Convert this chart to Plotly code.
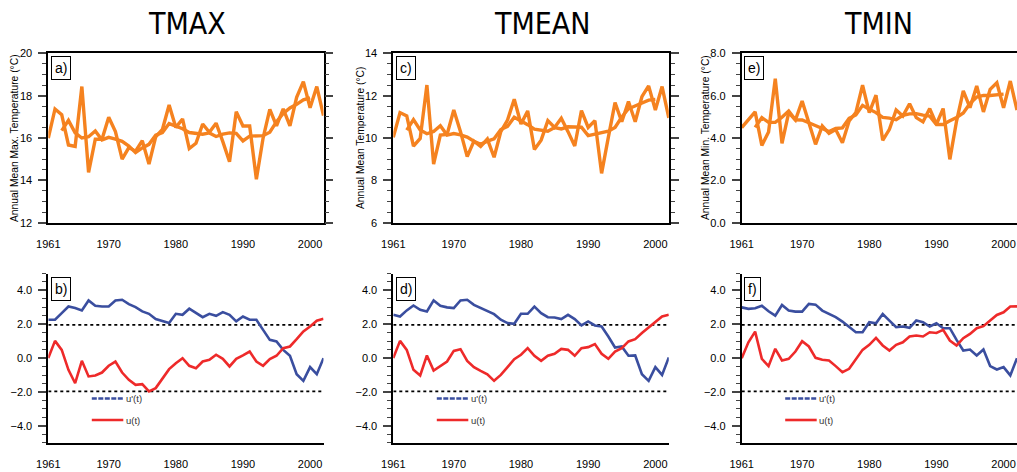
import plotly.graph_objects as go

# ---------------- data ----------------
years = list(range(1961, 2003))
smooth_years = list(range(1963, 2001))

tmax = [16.0, 17.37, 17.1, 15.67, 15.6, 18.43, 14.38, 15.94, 15.94, 16.98,
        16.3, 15.0, 15.55, 15.38, 15.87, 14.77, 16.06, 16.4, 17.56, 16.5,
        16.9, 15.5, 15.75, 16.66, 16.27, 16.7, 15.83, 14.88, 17.24, 16.57,
        16.57, 14.05, 16.0, 17.35, 16.57, 17.37, 16.57, 17.92, 18.66, 17.43,
        18.43, 17.06]
tmax_smooth = [16.35, 16.83, 16.24, 16.0, 16.06, 16.33, 15.91, 16.03, 15.95, 15.84,
               15.62, 15.31, 15.53, 15.7, 16.13, 16.26, 16.68, 16.57, 16.44, 16.26,
               16.22, 16.18, 16.24, 16.07, 16.18, 16.24, 16.22, 15.86, 16.09, 16.11,
               16.11, 16.27, 16.77, 17.16, 17.42, 17.59, 17.8, 17.9]

tmean = [10.03, 11.2, 11.04, 9.62, 9.98, 12.5, 8.77, 10.14, 10.17, 11.32,
         10.3, 9.12, 9.85, 9.6, 9.95, 9.09, 10.3, 10.85, 11.83, 10.66,
         11.28, 9.46, 9.9, 10.82, 10.5, 10.93, 10.3, 9.62, 11.29, 10.5,
         10.82, 8.33, 10.03, 11.67, 10.77, 11.72, 10.77, 11.95, 12.46, 11.32,
         12.43, 10.95]
tmean_smooth = [10.37, 10.87, 10.38, 10.2, 10.31, 10.58, 10.14, 10.21, 10.15, 10.04,
                9.85, 9.7, 9.85, 9.96, 10.4, 10.55, 10.98, 10.82, 10.63, 10.42,
                10.39, 10.32, 10.49, 10.43, 10.53, 10.53, 10.51, 10.11, 10.19, 10.27,
                10.32, 10.5, 10.99, 11.38, 11.53, 11.64, 11.79, 11.82]

tmin = [4.49, 4.86, 5.23, 3.65, 4.28, 6.8, 3.75, 5.2, 4.85, 5.75,
        4.75, 3.7, 4.57, 4.22, 4.4, 3.78, 4.8, 5.2, 6.49, 5.2,
        6.02, 3.89, 4.41, 5.32, 5.04, 5.62, 4.96, 4.76, 5.39, 4.65,
        5.39, 2.99, 4.8, 6.22, 5.43, 6.46, 5.23, 6.3, 6.61, 5.43,
        6.69, 5.32]
tmin_smooth = [4.5, 4.96, 4.74, 4.74, 4.98, 5.27, 4.86, 4.85, 4.72, 4.6,
               4.45, 4.3, 4.45, 4.48, 4.93, 5.09, 5.54, 5.36, 5.2, 4.97,
               4.94, 4.86, 5.07, 5.14, 5.15, 5.08, 5.03, 4.64, 4.64, 4.81,
               4.97, 5.18, 5.63, 5.93, 6.01, 6.01, 6.05, 6.07]

# Mann-Kendall sequential statistics: u(t) forward, u'(t) backward
ut_max = [0.0, 1.02, 0.49, -0.69, -1.48, -0.16, -1.08, -1.02, -0.85, -0.45,
          -0.2, -0.85, -1.28, -1.58, -1.54, -1.97, -1.77, -1.24, -0.65, -0.3,
          0.0, -0.45, -0.59, -0.2, -0.1, 0.2, -0.04, -0.49, -0.04, 0.16,
          0.39, -0.2, -0.45, -0.06, 0.14, 0.59, 0.69, 1.12, 1.58, 1.87,
          2.21, 2.33]
ubt_max = [2.27, 2.27, 2.66, 3.05, 2.96, 2.82, 3.41, 3.09, 3.05, 3.05,
           3.41, 3.45, 3.19, 3.01, 2.76, 2.62, 2.31, 2.17, 2.07, 2.62,
           2.56, 2.92, 2.66, 2.42, 2.62, 2.5, 2.72, 2.56, 2.17, 2.46,
           2.27, 2.27, 1.67, 1.08, 0.99, 0.49, 0.14, -0.95, -1.34, -0.53,
           -0.95, 0.0]

ut_mean = [0.0, 1.02, 0.49, -0.69, -1.02, 0.16, -0.73, -0.49, -0.2, 0.43,
           0.53, -0.16, -0.53, -0.75, -0.95, -1.34, -0.99, -0.53, -0.06, 0.2,
           0.59, 0.14, -0.16, 0.14, 0.26, 0.55, 0.49, 0.14, 0.59, 0.65,
           0.83, 0.26, -0.04, 0.39, 0.59, 0.99, 1.12, 1.48, 1.81, 2.11,
           2.46, 2.56]
ubt_mean = [2.56, 2.46, 2.82, 3.11, 2.86, 2.76, 3.41, 3.09, 3.0, 2.96,
            3.41, 3.45, 3.15, 2.96, 2.8, 2.6, 2.27, 2.07, 2.03, 2.62,
            2.62, 3.05, 2.66, 2.42, 2.4, 2.31, 2.56, 2.31, 1.93, 2.17,
            1.93, 1.87, 1.28, 0.63, 0.69, 0.14, 0.16, -0.95, -1.34, -0.53,
            -0.99, 0.04]

ut_min = [0.0, 0.94, 1.57, -0.04, -0.47, 0.55, -0.14, -0.04, 0.39, 1.0,
          0.69, 0.02, -0.1, -0.14, -0.47, -0.83, -0.63, -0.04, 0.49, 0.79,
          1.2, 0.75, 0.45, 0.79, 0.94, 1.28, 1.34, 1.28, 1.53, 1.49,
          1.67, 1.04, 0.75, 1.18, 1.43, 1.77, 1.89, 2.22, 2.55, 2.71,
          3.05, 3.06]
ubt_min = [3.0, 2.91, 2.95, 3.1, 2.77, 2.51, 3.14, 2.81, 2.75, 2.75,
           3.2, 3.16, 2.81, 2.61, 2.42, 2.16, 1.83, 1.53, 1.53, 2.12,
           2.06, 2.61, 2.22, 1.83, 1.87, 1.79, 2.22, 2.12, 1.87, 2.06,
           1.77, 1.77, 1.08, 0.45, 0.51, 0.16, 0.51, -0.47, -0.67, -0.53,
           -1.02, 0.0]

sig_levels = [1.96, -1.96]

titles = ["TMAX", "TMEAN", "TMIN"]
ytitles = ["Annual Mean Max. Temperature (°C)", "Annual Mean Temperature (°C)",
           "Annual Mean Min. Temperature (°C)"]
top_labels = ["a)", "c)", "e)"]
bot_labels = ["b)", "d)", "f)"]
xtick_vals = [1961, 1970, 1980, 1990, 2000]

# ---------------- layout helpers ----------------
W, H = 1017, 472
def px(x):
    return x / W
def py(y):
    return 1 - y / H

ORANGE = "#F5821F"
BLUE = "#3A4E9F"
RED = "#EE2A2A"
FONT = "Liberation Sans, Arial, Helvetica, sans-serif"
TITLE_FONT = "DejaVu Sans Condensed, Liberation Sans, Arial, sans-serif"
TICK_SIZE = 11

x_left = [48.3, 393.3, 741.7]
x_right = [323.5, 668.8, 1017.0]
top_y = (53.3, 222.7)
bot_y = (273.5, 442.8)

top_series = [(tmax, tmax_smooth), (tmean, tmean_smooth), (tmin, tmin_smooth)]
top_ranges = [[12, 20], [6, 14], [0, 8]]
top_fmt = ["d", "d", ".1f"]
bot_series = [(ut_max, ubt_max), (ut_mean, ubt_mean), (ut_min, ubt_min)]

fig = go.Figure()
layout = dict(width=W, height=H, margin=dict(l=0, r=0, t=0, b=0, pad=0),
              paper_bgcolor="white", plot_bgcolor="white", showlegend=False,
              font=dict(family=FONT, color="black"))
annotations = []
shapes = []

for i in range(3):
    # top panel
    n = i + 1
    xa = "x" if n == 1 else f"x{n}"
    ya = "y" if n == 1 else f"y{n}"
    annual, smooth = top_series[i]
    fig.add_trace(go.Scatter(x=years, y=annual, mode="lines",
                             line=dict(color=ORANGE, width=3.4), xaxis=xa, yaxis=ya))
    fig.add_trace(go.Scatter(x=smooth_years, y=smooth, mode="lines",
                             line=dict(color=ORANGE, width=3.4), xaxis=xa, yaxis=ya))
    layout[f"xaxis{'' if n == 1 else n}"] = dict(
        domain=[px(x_left[i]), px(x_right[i])], range=[1961, 2002], anchor=ya,
        automargin=False,
        tickvals=xtick_vals, ticks="", showline=True, linecolor="black", linewidth=1.8,
        mirror=True, showgrid=False, zeroline=False, ticklabelstandoff=10,
        tickfont=dict(size=TICK_SIZE, family=FONT))
    layout[f"yaxis{'' if n == 1 else n}"] = dict(
        domain=[py(top_y[1]), py(top_y[0])], range=top_ranges[i], anchor=xa,
        automargin=False,
        dtick=2, tickformat=top_fmt[i], ticks="outside", ticklen=8, tickwidth=1.5,
        showline=True, linecolor="black", linewidth=1.8,
        mirror=("ticks" if i < 2 else False), showgrid=False, zeroline=False,
        ticklabelstandoff=4,
        minor=dict(dtick=0.5, ticks="outside", ticklen=4, tickwidth=1.2, showgrid=False),
        tickfont=dict(size=TICK_SIZE, family=FONT))
    annotations.append(dict(text=titles[i], x=px([187, 542, 878][i]), y=py(24),
                            xref="paper", yref="paper", xanchor="center", yanchor="middle",
                            showarrow=False,
                            font=dict(size=30, family=TITLE_FONT, color="black")))
    annotations.append(dict(text=ytitles[i], x=px([14, 360, 705][i]), y=py(138),
                            xref="paper", yref="paper", xanchor="center", yanchor="middle",
                            showarrow=False, textangle=-90,
                            font=dict(size=10.3, family=FONT, color="black")))
    annotations.append(dict(text=top_labels[i], x=px(x_left[i] + 2.5), y=py(56.5),
                            xref="paper", yref="paper", xanchor="left", yanchor="top",
                            showarrow=False, bordercolor="black", borderwidth=1, borderpad=3,
                            bgcolor="white", font=dict(size=14, family=FONT, color="black")))

    # bottom panel
    m = i + 4
    xb = f"x{m}"
    yb = f"y{m}"
    ut, ubt = bot_series[i]
    for lev in sig_levels:
        fig.add_trace(go.Scatter(x=[years[0], years[-1]], y=[lev, lev], mode="lines",
                                 line=dict(color="black", width=1.8, dash="dot"),
                                 xaxis=xb, yaxis=yb))
    fig.add_trace(go.Scatter(x=years, y=ubt, mode="lines",
                             line=dict(color=BLUE, width=2.6), xaxis=xb, yaxis=yb))
    fig.add_trace(go.Scatter(x=years, y=ut, mode="lines",
                             line=dict(color=RED, width=2.6), xaxis=xb, yaxis=yb))
    layout[f"xaxis{m}"] = dict(
        domain=[px(x_left[i]), px(x_right[i])], range=[1961, 2002], anchor=yb,
        automargin=False,
        tickvals=xtick_vals, ticks="", showline=True, linecolor="black", linewidth=1.8,
        showgrid=False, zeroline=False, ticklabelstandoff=10,
        tickfont=dict(size=TICK_SIZE, family=FONT))
    layout[f"yaxis{m}"] = dict(
        domain=[py(bot_y[1]), py(bot_y[0])], range=[-5, 5], anchor=xb,
        automargin=False,
        tickvals=[-4, -2, 0, 2, 4], tickformat=".1f", ticks="outside", ticklen=8,
        tickwidth=1.5, showline=True, linecolor="black", linewidth=1.8,
        showgrid=False, zeroline=False, ticklabelstandoff=4,
        minor=dict(dtick=0.5, ticks="outside", ticklen=4, tickwidth=1.2, showgrid=False),
        tickfont=dict(size=TICK_SIZE, family=FONT))
    annotations.append(dict(text=bot_labels[i], x=px(x_left[i] + 2.5), y=py(277),
                            xref="paper", yref="paper", xanchor="left", yanchor="top",
                            showarrow=False, bordercolor="black", borderwidth=1, borderpad=3,
                            bgcolor="white", font=dict(size=14, family=FONT, color="black")))
    # legend
    lx0 = x_left[i] + 43.5
    lx1 = lx0 + 31.5
    shapes.append(dict(type="line", xref="paper", yref="paper", x0=px(lx0), x1=px(lx1),
                       y0=py(398.5), y1=py(398.5), line=dict(color=BLUE, width=2.6, dash="5px,1.5px")))
    shapes.append(dict(type="line", xref="paper", yref="paper", x0=px(lx0), x1=px(lx1),
                       y0=py(420), y1=py(420), line=dict(color=RED, width=2.6)))
    annotations.append(dict(text="u'(t)", x=px(lx1 + 0.5), y=py(398.5), xref="paper", yref="paper",
                            xanchor="left", yanchor="middle", showarrow=False,
                            font=dict(size=9.5, family=FONT, color="#333333")))
    annotations.append(dict(text="u(t)", x=px(lx1 + 0.5), y=py(420), xref="paper", yref="paper",
                            xanchor="left", yanchor="middle", showarrow=False,
                            font=dict(size=9.5, family=FONT, color="#333333")))

layout["annotations"] = annotations
layout["shapes"] = shapes
fig.update_layout(**layout)
fig.write_html("out.html")
